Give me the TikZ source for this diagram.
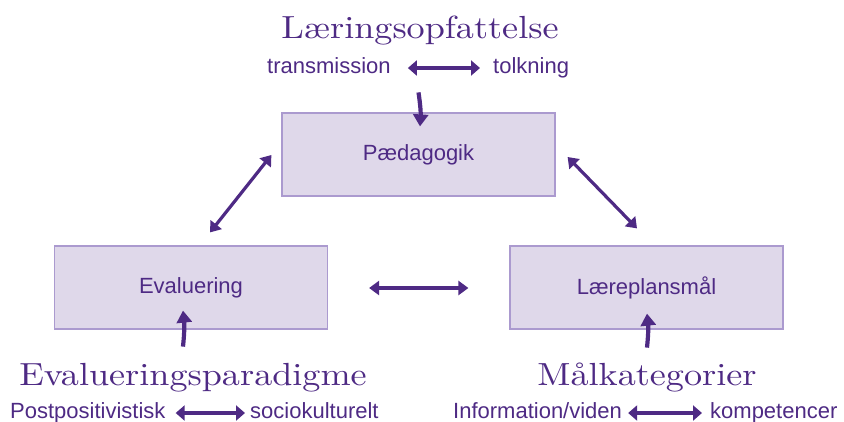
\documentclass[tikz,border=0pt]{standalone}
\usepackage{fontspec}
\usetikzlibrary{arrows.meta,calc}
\newfontfamily\hv{Liberation Sans}
\newfontfamily\ttlfont[FakeStretch=1.13]{lmroman10-regular.otf}
\definecolor{ink}{HTML}{4E2A84}
\definecolor{boxfill}{HTML}{DFD8EA}
\definecolor{boxline}{HTML}{AB9ACF}
\tikzset{
  box/.style={draw=boxline, line width=1.2pt, fill=boxfill, minimum width=273pt, minimum height=83pt, inner sep=0pt, text=ink, font=\hv\fontsize{22}{22}\selectfont},
  ttl/.style={text=ink, inner sep=0pt, anchor=base, font=\ttlfont\fontsize{32}{32}\selectfont},
  sub/.style={text=ink, inner sep=0pt, anchor=base west, font=\hv\fontsize{22}{22}\selectfont},
  arr/.style={draw=ink, line width=3.2pt, {Triangle[length=10pt,width=14pt]}-{Triangle[length=10pt,width=14pt]}},
  sarr/.style={draw=ink, line width=4.2pt, {Triangle[length=9pt,width=15pt]}-{Triangle[length=9pt,width=15pt]}},
  uarr/.style={draw=ink, line width=4.2pt, -{Triangle[length=12pt,width=15pt]}}
}
\begin{document}
\begin{tikzpicture}[x=1pt,y=-1pt]
\useasboundingbox (0,0) rectangle (844,421);
% boxes
\node[box] (paed) at (418.5,154.5) {Pædagogik};
\node[box] (eval) at (191,287.5) {Evaluering};
\node[box] (laer) at (646.5,287.5) {Læreplansmål};
% titles
\node[ttl] (t1) at (420,38) {Læringsopfattelse};
\node[ttl] (t2) at (193,385) {Evalueringsparadigme};
\node[ttl] (t3) at (647,385) {Målkategorier};
% sub labels
\node[sub] (a1) at (267,73) {transmission};
\node[sub] (b1) at (493,73) {tolkning};
\node[sub] (a2) at (10,418) {Postpositivistisk};
\node[sub] (b2) at (250,418) {sociokulturelt};
\node[sub] (a3) at (453,418) {Information/viden};
\node[sub] (b3) at (710,418) {kompetencer};
% sub arrows
\draw[sarr] ($(a1.base east)+(17,-5)$) -- ($(b1.base west)+(-13,-5)$);
\draw[sarr] ($(a2.base east)+(10,-5)$) -- ($(b2.base west)+(-5,-5)$);
\draw[sarr] ($(a3.base east)+(6,-5)$) -- ($(b3.base west)+(-8,-5)$);
% main arrows
\draw[arr] ($(paed.west)+(-10,0.5)$) -- ($(eval.north)+(19,-13)$);
\draw[arr] ($(paed.east)+(12,2.5)$) -- ($(laer.north)+(-9.5,-17)$);
\draw[arr] ($(eval.east)+(41,0.5)$) -- ($(laer.west)+(-41,0.5)$);
% vertical arrows
\draw[uarr] ($(paed.north)+(0,-20)$) to[bend left=6] ($(paed.north)+(1.5,14)$);
\draw[uarr] ($(eval.south)+(-8,17)$) to[bend right=6] ($(eval.south)+(-8,-19)$);
\draw[uarr] ($(laer.south)+(0.5,18)$) to[bend right=6] ($(laer.south)+(0.5,-16)$);
\end{tikzpicture}
\end{document}
